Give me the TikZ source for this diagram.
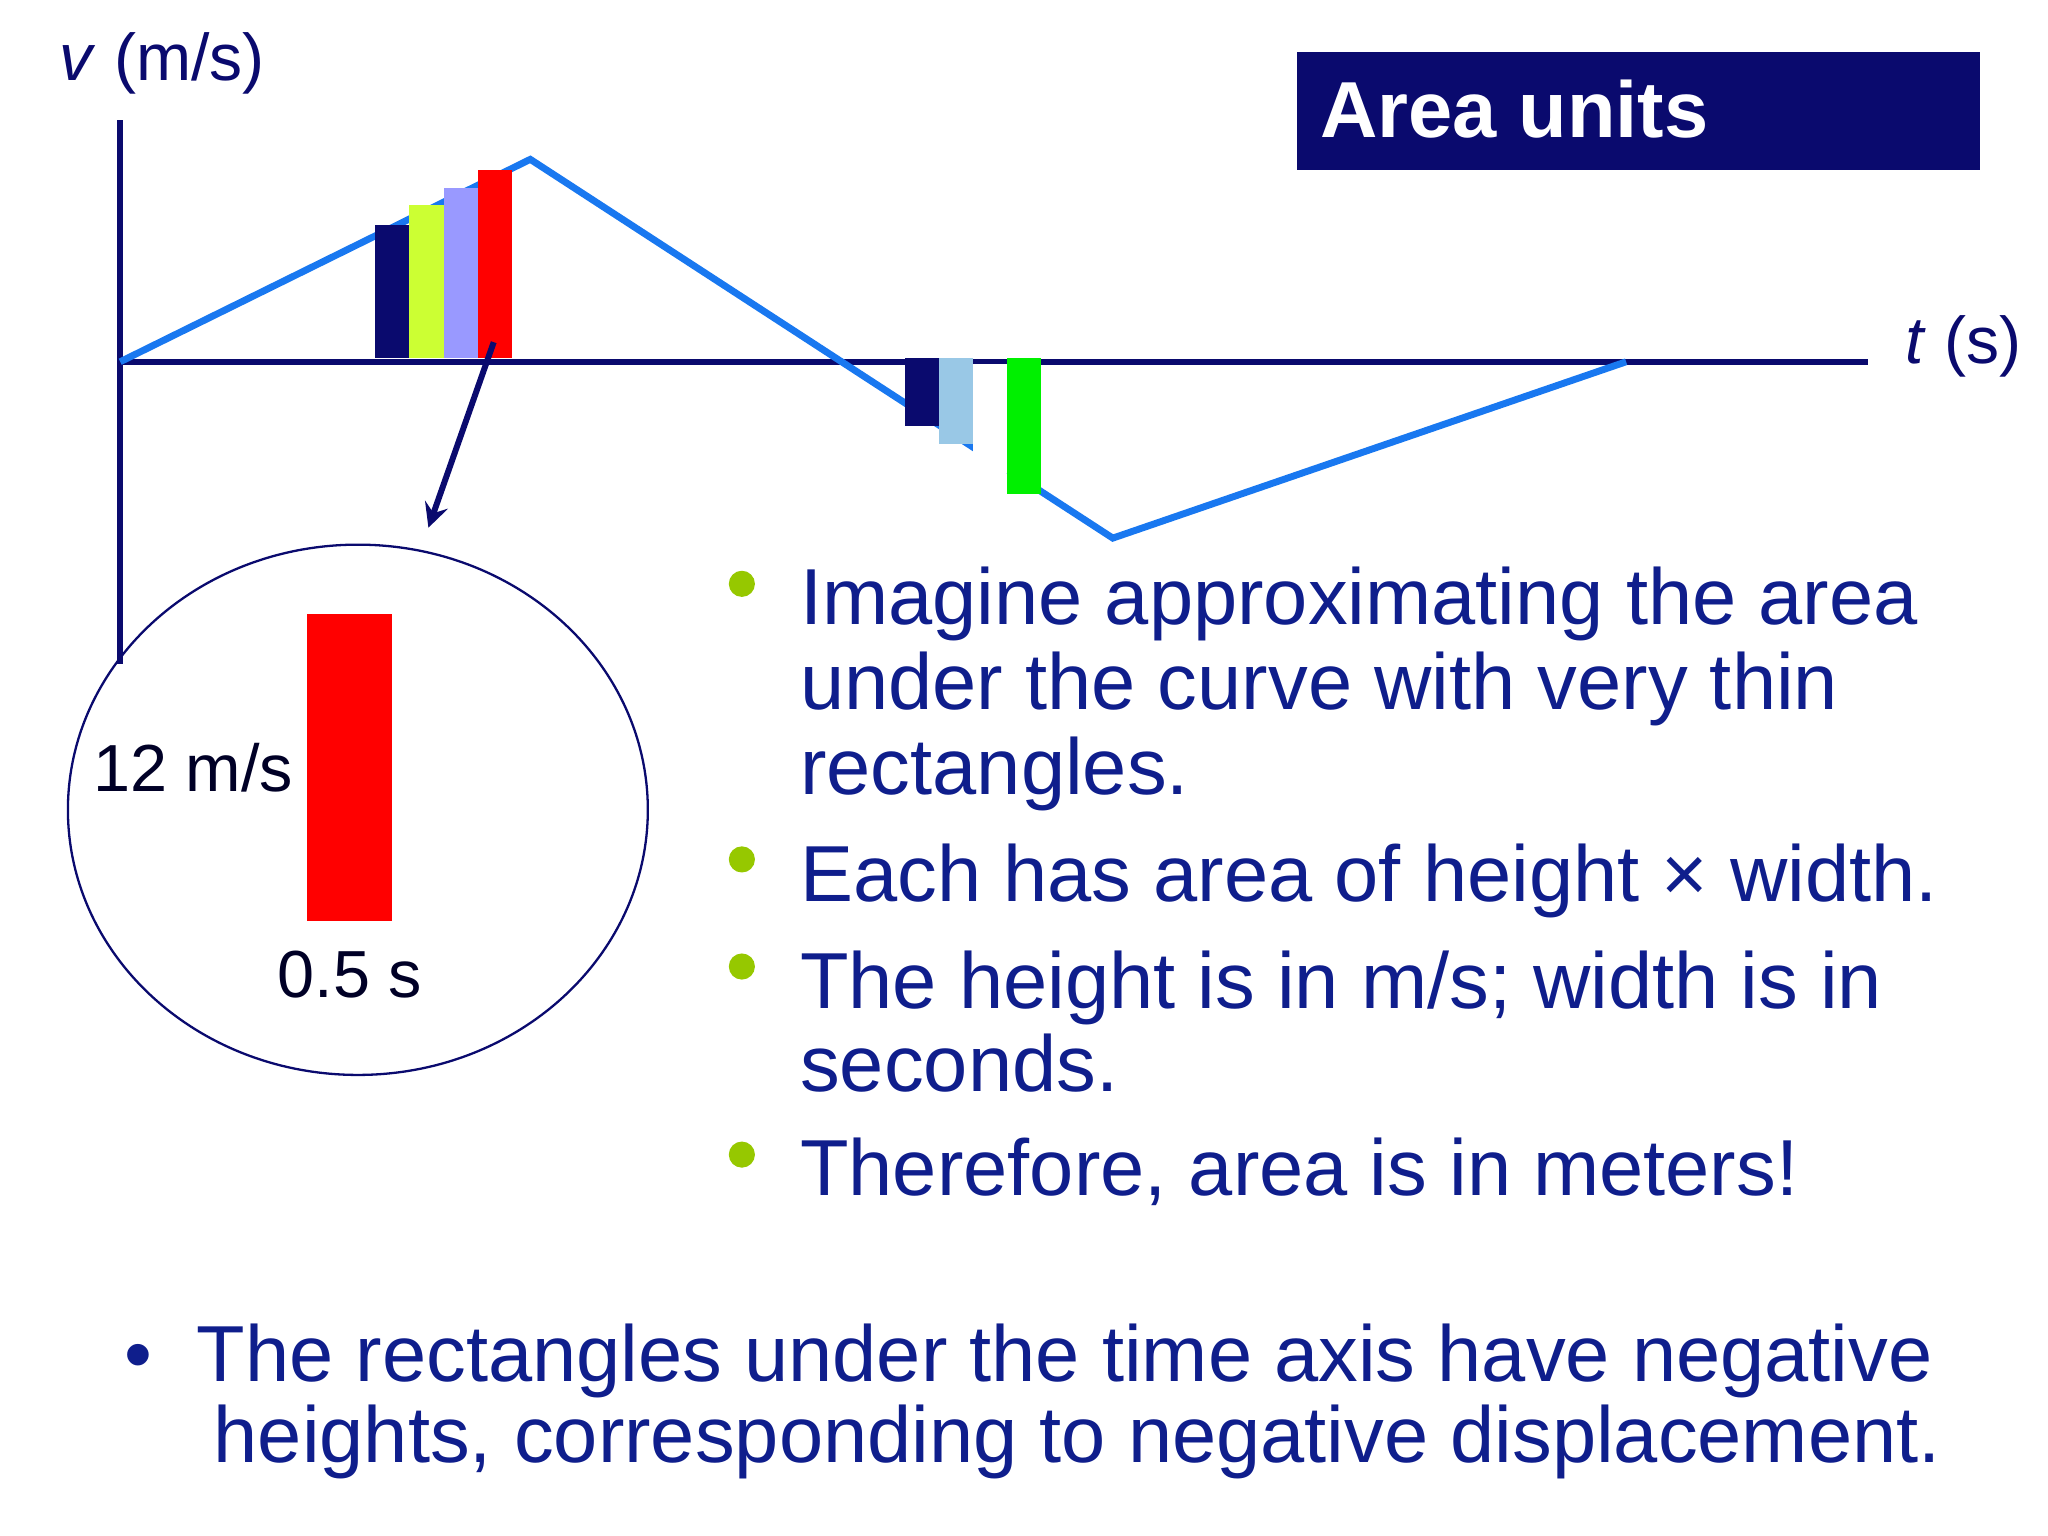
\documentclass[tikz,border=0pt]{standalone}
\usepackage{fontspec}
\setmainfont{Liberation Sans}
\definecolor{navy}{RGB}{10,10,110}
\definecolor{navytxt}{RGB}{15,30,140}
\definecolor{curve}{RGB}{25,120,240}
\definecolor{bulletgreen}{RGB}{150,200,0}
\definecolor{ygreen}{RGB}{204,255,51}
\definecolor{lav}{RGB}{153,153,255}
\definecolor{lblue}{RGB}{153,200,230}
\definecolor{brgreen}{RGB}{0,240,0}
\begin{document}
\begin{tikzpicture}[x=0.01cm,y=-0.01cm,
  txt/.style={anchor=base west,inner sep=0,text=navytxt,font=\fontsize{17.3}{20}\selectfont},
  dot/.style={circle,fill=bulletgreen,minimum size=0.2cm,inner sep=0}]
\useasboundingbox (0,0) rectangle (1568,1176);
% axes
\coordinate (vtop) at (92,92); \coordinate (vbot) at (92,508);
\coordinate (o) at (92,277); \coordinate (tend) at (1430,277);
\draw[navy,line width=1.2pt] (vtop) -- (vbot);
\draw[navy,line width=1.2pt] (o) -- (tend);
\node[anchor=base west,inner sep=0,text=navy,font=\fontsize{14.4}{16}\selectfont] (vl) at (45,62) {\textit{v} (m/s)};
\node[anchor=base west,inner sep=0,text=navy,font=\fontsize{14.4}{16}\selectfont] (tl) at (1458,278) {\textit{t} (s)};
% curve
\coordinate (p1) at (406,122); \coordinate (p2) at (852,412); \coordinate (p3) at (1245,277);
\draw[curve,line width=1.5pt,line join=miter] (o) -- (p1) -- (p2) -- (p3);
% rectangles
\fill[navy] (287,172) rectangle (313,274);
\fill[ygreen] (313,157) rectangle (340,274);
\fill[lav] (340,144) rectangle (366,274);
\fill[red] (366,130) rectangle (392,274);
\fill[navy] (693,274) rectangle (719,326);
\fill[lblue] (719,274) rectangle (745,340);
\fill[white] (745,279) rectangle (771,362);
\fill[brgreen] (771,274) rectangle (797,378);
% arrow
\coordinate (as) at (378,262); \coordinate (ae) at (328,404);
\draw[navy,line width=1.3pt,-stealth] (as) -- (ae);
% ellipse
\draw[navy,line width=0.5pt] (274,620) ellipse [x radius=222, y radius=203];
\fill[red] (235,470) rectangle (300,705);
\node[anchor=base,inner sep=0,text=black!85!blue,font=\fontsize{14.5}{16}\selectfont] (h) at (148,606) {12 m/s};
\node[anchor=base,inner sep=0,text=black!85!blue,font=\fontsize{14.5}{16}\selectfont] (w) at (268,764) {0.5 s};
% title
\fill[navy] (993,40) rectangle (1516,130);
\node[anchor=base west,inner sep=0,text=white,font=\bfseries\fontsize{17.3}{20}\selectfont] (title) at (1010,105) {Area units};
% bullets
\node[dot] (d1) at (568,447) {};
\node[dot] (d2) at (568,658) {};
\node[dot] (d3) at (568,740) {};
\node[dot] (d4) at (568,884) {};
\node[txt] (l1) at (612,478) {Imagine approximating the area};
\node[txt] (l2) at (612,543) {under the curve with very thin};
\node[txt] (l3) at (612,608) {rectangles.};
\node[txt] (l4) at (612,690) {Each has area of height × width.};
\node[txt] (l5) at (612,772) {The height is in m/s; width is in};
\node[txt] (l6) at (612,836) {seconds.};
\node[txt] (l7) at (612,915) {Therefore, area is in meters!};
\node[txt] (b0) at (95,1058) {•};
\node[txt] (b1) at (150,1058) {The rectangles under the time axis have negative};
\node[txt] (b2) at (163,1120) {heights, corresponding to negative displacement.};
\end{tikzpicture}
\end{document}
